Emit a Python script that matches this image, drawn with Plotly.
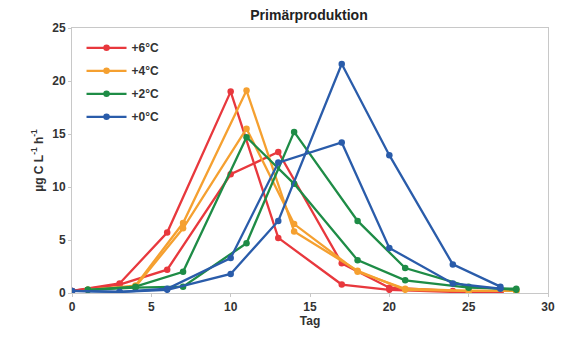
import plotly.graph_objects as go

days_a = [0, 3, 6, 10, 13, 17, 20, 24, 27]   # +6 °C and +0 °C sampling days
days_b = [1, 4, 7, 11, 14, 18, 21, 25, 28]   # +4 °C and +2 °C sampling days

red_1 = [0.2, 0.9, 5.7, 19.0, 5.2, 0.8, 0.3, 0.1, 0.1]
red_2 = [0.2, 0.8, 2.2, 11.2, 13.3, 2.8, 0.5, 0.2, 0.1]
orange_1 = [0.3, 0.7, 6.6, 19.1, 5.8, 2.1, 0.3, 0.2, 0.2]
orange_2 = [0.3, 0.6, 6.1, 15.5, 6.5, 2.0, 0.4, 0.2, 0.2]
green_1 = [0.3, 0.5, 0.6, 4.7, 15.2, 6.8, 2.35, 0.6, 0.3]
green_2 = [0.3, 0.6, 2.0, 14.7, 10.3, 3.1, 1.2, 0.5, 0.4]
blue_1 = [0.2, 0.1, 0.3, 1.8, 6.8, 21.6, 13.0, 2.7, 0.6]
blue_2 = [0.2, 0.1, 0.4, 3.3, 12.3, 14.2, 4.25, 0.9, 0.4]

series = [
    ("+6°C", "#e8383d", days_a, [red_1, red_2]),
    ("+4°C", "#f5a030", days_b, [orange_1, orange_2]),
    ("+2°C", "#1e8c46", days_b, [green_1, green_2]),
    ("+0°C", "#2a5caa", days_a, [blue_1, blue_2]),
]

fig = go.Figure()
for name, color, xs, reps in series:
    for i, ys in enumerate(reps):
        fig.add_trace(go.Scatter(
            x=xs, y=ys, mode="lines+markers", name=name,
            legendgroup=name, showlegend=(i == 0),
            line=dict(color=color, width=2.3),
            marker=dict(color=color, size=6.5),
        ))

font_family = "Liberation Sans, Arial, sans-serif"
axis_common = dict(
    showgrid=False, zeroline=False, showline=True, mirror=True,
    linecolor="#c8c8c8", linewidth=1,
    ticks="outside", ticklen=3, tickcolor="#c8c8c8",
    tickfont=dict(family=font_family, size=12, color="#333333", weight="bold"),
)

fig.update_layout(
    width=567, height=346,
    margin=dict(l=72, r=14, t=28, b=53),
    paper_bgcolor="white", plot_bgcolor="white",
    title=dict(text="<b>Primärproduktion</b>", x=0.545, xanchor="center", y=0.955, yanchor="middle",
               font=dict(family=font_family, size=14, color="#222222")),
    xaxis=dict(range=[0, 30], dtick=5, **axis_common,
               title=dict(text="<b>Tag</b>", standoff=2,
                          font=dict(family=font_family, size=12, color="#333333"))),
    yaxis=dict(range=[0, 25], dtick=5, **axis_common,
               title=dict(text="<b>µg C L<sup>-1</sup> h<sup>-1</sup></b>", standoff=6,
                          font=dict(family=font_family, size=12, color="#333333"))),
    legend=dict(x=0.02, y=0.98, xanchor="left", yanchor="top",
                bgcolor="rgba(0,0,0,0)", tracegroupgap=4, itemwidth=40,
                font=dict(family=font_family, size=12, color="#333333", weight="bold")),
    showlegend=True,
)

fig.write_html("out.html")
